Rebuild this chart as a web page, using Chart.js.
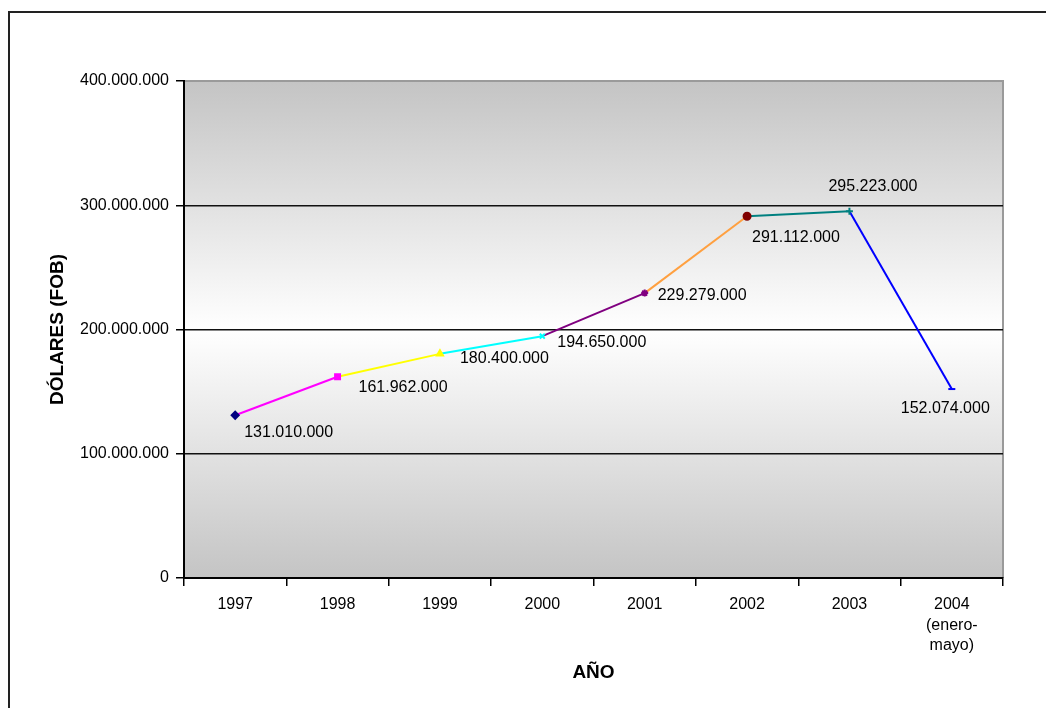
<!DOCTYPE html>
<html>
<head>
<meta charset="utf-8">
<script src="https://cdn.jsdelivr.net/npm/chart.js@4.4.1/dist/chart.umd.min.js"></script>
<style>
  html, body { margin: 0; padding: 0; background: #fff; }
  #wrap { position: relative; width: 1046px; height: 708px; }
</style>
</head>
<body>
<div id="wrap"><canvas id="c" width="1046" height="708"></canvas></div>
<script>
// valores
var years = ['1997', '1998', '1999', '2000', '2001', '2002', '2003', ['2004', '(enero-', 'mayo)']];
var dolares = [131010000, 161962000, 180400000, 194650000, 229279000, 291112000, 295223000, 152074000];
var yTicks = [0, 100000000, 200000000, 300000000, 400000000];

// estilo de cada tramo / marcador (tipo Excel)
var segColors = ['#ff00ff', '#ffff00', '#00ffff', '#800080', '#ffa040', '#008080', '#0000ff'];
var markColors = ['#000080', '#ff00ff', '#ffff00', '#00ffff', '#800080', '#800000', '#008080', '#0000ff'];
var markStyles = ['rectRot', 'rect', 'triangle', 'crossRot', 'star', 'circle', 'cross', 'line'];
var labelOffsets = [[9, 17], [21, 11], [20, 5], [15, 6], [13, 2], [5, 21], [-21, -25], [-51, 20]];

var FONT = '"Liberation Sans", Arial, sans-serif';

function fmt(v) {
  return String(v).replace(/\B(?=(\d{3})+(?!\d))/g, '.');
}

var bgPlugin = {
  id: 'bgPlugin',
  beforeDraw: function(chart) {
    var ctx = chart.ctx, a = chart.chartArea;
    ctx.save();
    // marco exterior
    ctx.strokeStyle = '#222';
    ctx.lineWidth = 2;
    ctx.beginPath();
    ctx.moveTo(1060, 12);
    ctx.lineTo(9, 12);
    ctx.lineTo(9, 720);
    ctx.stroke();
    // fondo degradado del area
    var g = ctx.createLinearGradient(0, a.top, 0, a.bottom);
    g.addColorStop(0, '#c4c4c4');
    g.addColorStop(0.5, '#ffffff');
    g.addColorStop(1, '#c4c4c4');
    ctx.fillStyle = g;
    ctx.fillRect(a.left, a.top, a.right - a.left, a.bottom - a.top);
    ctx.strokeStyle = '#9a9a9a';
    ctx.lineWidth = 2;
    ctx.beginPath();
    ctx.moveTo(a.left, a.top);
    ctx.lineTo(a.right, a.top);
    ctx.lineTo(a.right, a.bottom);
    ctx.stroke();
    ctx.restore();
  }
};

var labelPlugin = {
  id: 'labelPlugin',
  afterDatasetsDraw: function(chart) {
    var ctx = chart.ctx;
    var meta = chart.getDatasetMeta(0);
    ctx.save();
    ctx.font = '16px ' + FONT;
    ctx.fillStyle = '#000';
    ctx.textAlign = 'left';
    ctx.textBaseline = 'middle';
    meta.data.forEach(function(pt, i) {
      var off = labelOffsets[i];
      ctx.fillText(fmt(dolares[i]), pt.x + off[0], pt.y + off[1]);
    });
    ctx.restore();
  }
};

new Chart(document.getElementById('c'), {
  type: 'line',
  data: {
    labels: years,
    datasets: [{
      data: dolares,
      borderWidth: 2,
      borderColor: segColors[0],
      segment: {
        borderColor: function(ctx) { return segColors[ctx.p0DataIndex]; }
      },
      tension: 0,
      fill: false,
      pointStyle: markStyles,
      pointRadius: 3.5,
      pointBorderWidth: 2,
      pointBackgroundColor: markColors,
      pointBorderColor: markColors
    }]
  },
  options: {
    responsive: false,
    animation: false,
    layout: { padding: { left: 42, top: 81, right: 43, bottom: 20 } },
    plugins: {
      legend: { display: false },
      tooltip: { enabled: false }
    },
    scales: {
      x: {
        offset: true,
        grid: { offset: true, color: 'rgba(0,0,0,0)', tickColor: '#000', tickLength: 8, lineWidth: 1.5 },
        border: { display: true, color: '#000', width: 2 },
        ticks: { color: '#000', font: { family: FONT, size: 16, lineHeight: 1.3 }, padding: 8, maxRotation: 0, autoSkip: false },
        title: { display: true, text: 'AÑO', color: '#000', font: { family: FONT, size: 19, weight: 'bold' } },
        afterFit: function(s) { s.height = 708 - 578 - 20; }
      },
      y: {
        min: 0,
        max: 400000000,
        afterBuildTicks: function(s) { s.ticks = yTicks.map(function(v) { return { value: v }; }); },
        grid: {
          color: function(ctx) {
            var v = ctx.tick ? ctx.tick.value : 0;
            return (v > 0 && v < 400000000) ? '#111' : 'rgba(0,0,0,0)';
          },
          tickColor: '#000',
          tickLength: 8,
          lineWidth: 1.5
        },
        border: { display: true, color: '#000', width: 2 },
        ticks: {
          color: '#000',
          font: { family: FONT, size: 16 },
          padding: 7,
          callback: function(v) { return fmt(v); }
        },
        title: { display: true, text: 'DÓLARES (FOB)', color: '#000', font: { family: FONT, size: 19, weight: 'bold' } },
        afterFit: function(s) { s.width = 184 - 42; }
      }
    }
  },
  plugins: [bgPlugin, labelPlugin]
});
</script>
</body>
</html>
